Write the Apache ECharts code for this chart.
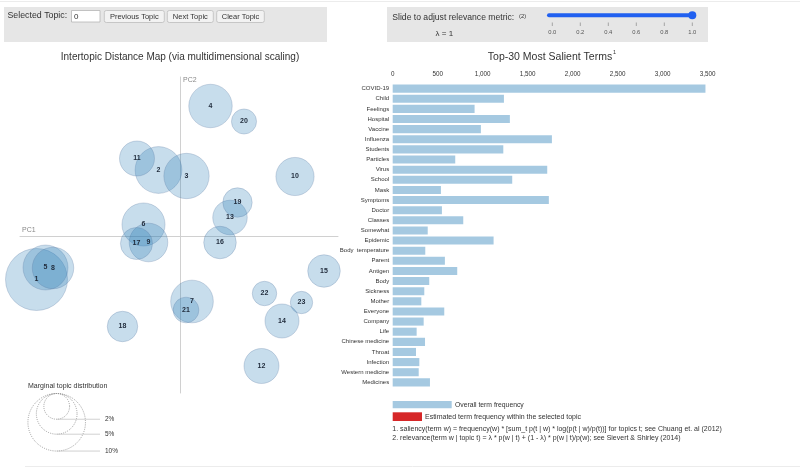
<!DOCTYPE html>
<html><head><meta charset="utf-8">
<script src="https://cdn.jsdelivr.net/npm/echarts@6/dist/echarts.min.js"></script>
<style>html,body{margin:0;padding:0;background:#fff}#c{width:800px;height:469px}</style>
</head><body><div id="c"></div>
<script>
// ---- Intertopic distance map data ----
const topicIds = ['1','2','3','4','5','6','7','8','9','10','11','12','13','14','15','16','17','18','19','20','21','22','23'];
const pc1 = [-0.287,-0.043,0.013,0.061,-0.269,-0.073,0.024,-0.254,-0.063,0.230,-0.086,0.163,0.100,0.204,0.288,0.080,-0.087,-0.115,0.115,0.128,0.012,0.169,0.243];
const pc2 = [-0.087,0.132,0.120,0.260,-0.063,0.023,-0.131,-0.064,-0.013,0.119,0.155,-0.260,0.037,-0.170,-0.070,-0.013,-0.015,-0.181,0.067,0.229,-0.148,-0.115,-0.133];
const topicShare = [11.6,6.6,6.2,5.7,6.1,5.6,5.5,5.2,4.5,4.4,3.7,3.7,3.6,3.5,3.2,3.2,3.1,2.8,2.6,1.9,2.0,1.8,1.5];
const marginalLegend = [2,5,10];
// ---- Salient terms data ----
const terms = ['COVID-19','Child','Feelings','Hospital','Vaccine','Influenza','Students','Particles','Virus','School','Mask','Symptoms','Doctor','Classes','Somewhat','Epidemic','Body  temperature','Parent','Antigen','Body','Sickness','Mother','Everyone','Company','Life','Chinese medicine','Throat','Infection','Western medicine','Medicines'];
const termFreq = [3475,1236,910,1302,980,1769,1229,695,1717,1328,536,1735,547,784,389,1121,362,580,717,406,351,318,573,344,266,359,259,296,289,414];
const sliderTicks = ['0.0','0.2','0.4','0.6','0.8','1.0'];
const buttons = ['Previous Topic','Next Topic','Clear Topic'];
const footnotes = [
 '1. saliency(term w) = frequency(w) * [sum_t p(t | w) * log(p(t | w)/p(t))] for topics t; see Chuang et. al (2012)',
 '2. relevance(term w | topic t) = \u03bb * p(w | t) + (1 - \u03bb) * p(w | t)/p(w); see Sievert & Shirley (2014)'
];

const FONT = '"Liberation Sans", Arial, sans-serif';
const K = 9.1; // radius px per sqrt(percent)
const rad = p => K * Math.sqrt(p);

const chart = echarts.init(document.getElementById('c'), null, {renderer:'canvas'});

const g = [];
function txt(x,y,s,opt){ g.push(Object.assign({type:'text',x:x,y:y,silent:true,style:Object.assign({text:s,font:'8px '+FONT,fill:'#333',textVerticalAlign:'middle',verticalAlign:'middle'},opt||{})})); }
function rect(x,y,w,h,style,r){ g.push({type:'rect',silent:true,shape:{x:x,y:y,width:w,height:h,r:r||0},style:style}); }
function line(x1,y1,x2,y2,style){ g.push({type:'line',silent:true,shape:{x1:x1,y1:y1,x2:x2,y2:y2},style:style}); }

// separators
line(0,1.5,800,1.5,{stroke:'#ececec',lineWidth:1});
line(25,466.5,800,466.5,{stroke:'#ececec',lineWidth:1});
// top-left panel
rect(4,7,323,35,{fill:'#e6e6e6'});
txt(7.5,16,'Selected Topic:',{font:'8.8px '+FONT});
rect(71.5,10.5,28.5,11.5,{fill:'#fff',stroke:'#b5b5b5',lineWidth:0.8});
txt(74,16.3,'0',{font:'8px '+FONT});
const btnX = [[104.3,164.3],[167.3,213.3],[216.7,264.3]];
buttons.forEach((b,i)=>{
  rect(btnX[i][0],10.5,btnX[i][1]-btnX[i][0],12,{fill:'#f2f2f2',stroke:'#bdbdbd',lineWidth:0.8},2);
  txt((btnX[i][0]+btnX[i][1])/2,16.5,b,{font:'7.5px '+FONT,align:'center',textAlign:'center'});
});
// top-right panel
rect(387,7,321,35,{fill:'#e6e6e6'});
txt(392.3,18,'Slide to adjust relevance metric:',{font:'8.6px '+FONT});
txt(519,16,'(2)',{font:'5.8px '+FONT});
txt(444.3,33.3,'\u03bb = 1',{font:'8px '+FONT,align:'center',textAlign:'center'});
const sx0 = 552.3, sx1 = 692.3;
line(549,15.3,sx1,15.3,{stroke:'#2160f0',lineWidth:4,lineCap:'round'});
g.push({type:'circle',silent:true,shape:{cx:sx1,cy:15.3,r:4},style:{fill:'#2160f0'}});
sliderTicks.forEach((t,i)=>{
  const x = sx0 + (sx1-sx0)*parseFloat(t);
  line(x,22.5,x,26,{stroke:'#777',lineWidth:0.6});
  txt(x,32.3,t,{font:'5.8px '+FONT,fill:'#555',align:'center',textAlign:'center'});
});
// titles
txt(180,57.5,'Intertopic Distance Map (via multidimensional scaling)',{font:'10px '+FONT,align:'center',textAlign:'center'});
txt(550,57.5,'Top-30 Most Salient Terms',{font:'10.5px '+FONT,align:'center',textAlign:'center'});
txt(613,52.5,'1',{font:'5.5px '+FONT});
// axis names
txt(22,230.5,'PC1',{font:'7px '+FONT,fill:'#888'});
txt(183,80.5,'PC2',{font:'7px '+FONT,fill:'#888'});
// marginal topic distribution legend
txt(28,385.7,'Marginal topic distribution',{font:'7px '+FONT});
const lcx = 56.7, ltop = 393.5;
marginalLegend.slice().reverse().forEach(p=>{
  const r = rad(p);
  g.push({type:'circle',silent:true,shape:{cx:lcx,cy:ltop+r,r:r},style:{fill:'none',stroke:'#888',lineWidth:0.8,lineDash:[1,1.2]}});
});
marginalLegend.forEach(p=>{
  const yb = ltop + 2*rad(p);
  line(lcx,yb,100,yb,{stroke:'#bdbdbd',lineWidth:0.7});
  txt(105,yb,p+'%',{font:'6.5px '+FONT});
});
// bar legend + footnotes
rect(392.7,401,59,7.3,{fill:'rgba(31,119,180,0.4)'});
txt(455,404.7,'Overall term frequency',{font:'6.8px '+FONT});
rect(392.7,412.3,29.3,8.7,{fill:'#d62728'});
txt(425,416.6,'Estimated term frequency within the selected topic',{font:'7px '+FONT});
txt(392.3,429.3,footnotes[0],{font:'7px '+FONT});
txt(392.3,438.3,footnotes[1],{font:'7px '+FONT});

const scatterData = topicIds.map((id,i)=>({name:id,value:[pc1[i],pc2[i],topicShare[i]]}));

chart.setOption({
  animation:false,
  textStyle:{fontFamily:FONT},
  grid:[
    {left:20,top:77,width:318,height:316},
    {left:392.7,top:83.6,width:315,height:303.8}
  ],
  xAxis:[
    {gridIndex:0,type:'value',min:-0.32,max:0.316,axisLine:{show:true,onZero:true,lineStyle:{color:'#d0d0d0',width:1}},axisTick:{show:false},axisLabel:{show:false},splitLine:{show:false}},
    {gridIndex:1,type:'value',position:'top',min:0,max:3500,interval:500,axisLine:{show:false},axisTick:{show:false},splitLine:{show:false},
     axisLabel:{fontSize:6.3,color:'#333',margin:6,fontFamily:FONT}}
  ],
  yAxis:[
    {gridIndex:0,type:'value',min:-0.314,max:0.318,axisLine:{show:true,onZero:true,lineStyle:{color:'#d0d0d0',width:1}},axisTick:{show:false},axisLabel:{show:false},splitLine:{show:false}},
    {gridIndex:1,type:'category',inverse:true,data:terms,axisLine:{show:false},axisTick:{show:false},
     axisLabel:{fontSize:6,color:'#333',margin:3.5,fontFamily:FONT,interval:0}}
  ],
  series:[
    {type:'scatter',xAxisIndex:0,yAxisIndex:0,data:scatterData,
     symbolSize:v=>2*rad(v[2]),
     itemStyle:{color:'rgba(31,119,180,0.25)',borderColor:'rgba(90,120,160,0.35)',borderWidth:0.8,opacity:1},
     label:{show:true,position:'inside',formatter:p=>p.name,fontSize:7,fontWeight:'bold',color:'#1f2a3a',fontFamily:FONT},
     emphasis:{disabled:true}},
    {type:'bar',xAxisIndex:1,yAxisIndex:1,data:termFreq,barCategoryGap:'20%',
     itemStyle:{color:'rgba(31,119,180,0.4)'},emphasis:{disabled:true}}
  ],
  graphic:g
});
</script></body></html>
